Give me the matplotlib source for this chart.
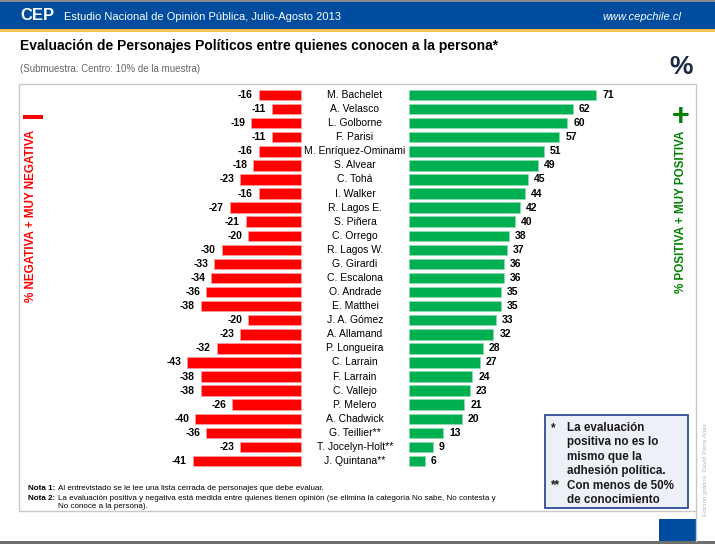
import matplotlib
matplotlib.use("Agg")
import matplotlib.pyplot as plt
from matplotlib.patches import Rectangle

plt.rcParams['font.family'] = ['Liberation Sans', 'DejaVu Sans']

names = ["M. Bachelet", "A. Velasco", "L. Golborne", "F. Parisi", "M. Enríquez-Ominami",
         "S. Alvear", "C. Tohá", "I. Walker", "R. Lagos E.", "S. Piñera", "C. Orrego",
         "R. Lagos W.", "G. Girardi", "C. Escalona", "O. Andrade", "E. Matthei",
         "J. A. Gómez", "A. Allamand", "P. Longueira", "C. Larrain", "F. Larrain",
         "C. Vallejo", "P. Melero", "A. Chadwick", "G. Teillier**", "T. Jocelyn-Holt**",
         "J. Quintana**"]
negativa = [-16, -11, -19, -11, -16, -18, -23, -16, -27, -21, -20, -30, -33, -34,
            -36, -38, -20, -23, -32, -43, -38, -38, -26, -40, -36, -23, -41]
positiva = [71, 62, 60, 57, 51, 49, 45, 44, 42, 40, 38, 37, 36, 36, 35, 35, 33, 32,
            28, 27, 24, 23, 21, 20, 13, 9, 6]

RED = "#FF0000"
GREEN = "#00B050"
BLUE = "#004C9E"
W, H = 715, 544

fig = plt.figure(figsize=(W / 100, H / 100), dpi=100)

def fx(px):
    return px / W

def fy(py):
    return 1 - py / H

# header band
fig.patches.append(Rectangle((0, fy(29)), 1, fy(2) - fy(29), transform=fig.transFigure,
                             facecolor=BLUE, edgecolor="none"))
fig.patches.append(Rectangle((0, fy(2)), 1, 1 - fy(2), transform=fig.transFigure,
                             facecolor="#8c8c8c", edgecolor="none"))
fig.patches.append(Rectangle((0, fy(31.5)), 1, fy(29) - fy(31.5), transform=fig.transFigure,
                             facecolor="#F2C14E", edgecolor="none"))
fig.text(fx(20), fy(16), "CEP", color="white", fontsize=12, fontweight="bold", va="center")
fig.text(fx(64), fy(16.5), "Estudio Nacional de Opinión Pública, Julio-Agosto 2013",
         color="white", fontsize=8, va="center")
fig.text(fx(681), fy(16.5), "www.cepchile.cl", color="white", fontsize=8,
         style="italic", va="center", ha="right")

fig.text(fx(20), fy(46), "Evaluación de Personajes Políticos entre quienes conocen a la persona*",
         fontsize=10, fontweight="bold", va="center")
fig.text(fx(20), fy(69), "(Submuestra: Centro: 10% de la muestra)", fontsize=7,
         color="#666666", va="center")
fig.text(fx(681), fy(67), "%", fontsize=19, fontweight="bold", color="#1a2a44",
         va="center", ha="center")

# panel frame
fig.patches.append(Rectangle((fx(19), fy(511)), fx(696) - fx(19), fy(84) - fy(511),
                             transform=fig.transFigure, facecolor="white",
                             edgecolor="#c8c8c8", linewidth=1, zorder=0))

# bars axes: origin at x=355 px, 2.64 px per point
scale = 2.64
gap = (409 - 301) / 2 / scale
ax = fig.add_axes([fx(160), fy(470), fx(650) - fx(160), fy(84) - fy(470)])
ax.set_zorder(5)
ax.set_xlim((160 - 355) / scale, (650 - 355) / scale)
ax.set_ylim(26 + (470 - 461) / 14.08, -(95 - 84) / 14.08)
ax.axis("off")

rows = list(range(len(names)))
ax.barh(rows, negativa, left=-gap, height=0.74, color=RED, edgecolor="#ff9a9a", linewidth=0.6)
ax.barh(rows, positiva, left=gap, height=0.74, color=GREEN, edgecolor="#8fd9b0", linewidth=0.6)
for i in rows:
    ax.text(0, i, names[i], ha="center", va="center", fontsize=7.5)
    ax.text(-gap + negativa[i] - 2.2, i, str(negativa[i]), ha="right", va="center",
            fontsize=7.5, fontweight="bold")
    ax.text(gap + positiva[i] + 2.2, i, str(positiva[i]), ha="left", va="center",
            fontsize=7.5, fontweight="bold")

# side labels
fig.patches.append(Rectangle((fx(23), fy(119)), fx(43) - fx(23), fy(115.5) - fy(119),
                             transform=fig.transFigure, facecolor=RED, edgecolor="none"))
fig.text(fx(31), fy(216), "% NEGATIVA + MUY NEGATIVA", rotation=90, color=RED,
         fontsize=8.4, fontweight="bold", ha="center", va="center")
fig.text(fx(681), fy(117), "+", color="#008000", fontsize=22, fontweight="bold",
         ha="center", va="center")
fig.text(fx(681), fy(212), "% POSITIVA + MUY POSITIVA", rotation=90, color="#008000",
         fontsize=8.4, fontweight="bold", ha="center", va="center")

# notes
fig.text(fx(28), fy(489), "Nota 1:", fontsize=5.8, fontweight="bold", va="center")
fig.text(fx(58), fy(489), "Al entrevistado se le lee una lista cerrada de personajes que debe evaluar.",
         fontsize=5.8, va="center")
fig.text(fx(28), fy(498), "Nota 2:", fontsize=5.8, fontweight="bold", va="center")
fig.text(fx(58), fy(498), "La evaluación positiva y negativa está medida entre quienes tienen opinión "
         "(se elimina la categoría No sabe, No contesta y", fontsize=5.8, va="center")
fig.text(fx(58), fy(507), "No conoce a la persona).", fontsize=5.8, va="center")

# note box
fig.patches.append(Rectangle((fx(545), fy(508)), fx(688) - fx(545), fy(415) - fy(508),
                             transform=fig.transFigure, facecolor="#EEF0F8",
                             edgecolor="#1F3F8F", linewidth=1.2))
box_lines = [("*", "La evaluación"), ("", "positiva no es lo"), ("", "mismo que la"),
             ("", "adhesión política."), ("**", "Con menos de 50%"), ("", "de conocimiento")]
for k, (mark, txt) in enumerate(box_lines):
    yy = 428 + k * 14.4
    if mark:
        fig.text(fx(551), fy(yy), mark, fontsize=8.4, fontweight="bold", va="center",
                 color="#1a1a1a")
    fig.text(fx(567), fy(yy), txt, fontsize=8.4, fontweight="bold", va="center",
             color="#1a1a1a")

# footer
fig.patches.append(Rectangle((fx(659), fy(541)), fx(696) - fx(659), fy(519) - fy(541),
                             transform=fig.transFigure, facecolor=BLUE, edgecolor="none"))
fig.patches.append(Rectangle((0, 0), 1, fy(541), transform=fig.transFigure,
                             facecolor="#6e6e6e", edgecolor="none"))
fig.lines.append(plt.Line2D([fx(696), fx(696)], [fy(511), fy(541)], transform=fig.transFigure,
                            color="#c8c8c8", linewidth=1))
fig.text(fx(706), fy(470), "Edición gráfica: David Parra Arias", rotation=90, fontsize=4.5,
         color="#b8b8b8", ha="center", va="center")

fig.savefig("out.png", dpi=100)
